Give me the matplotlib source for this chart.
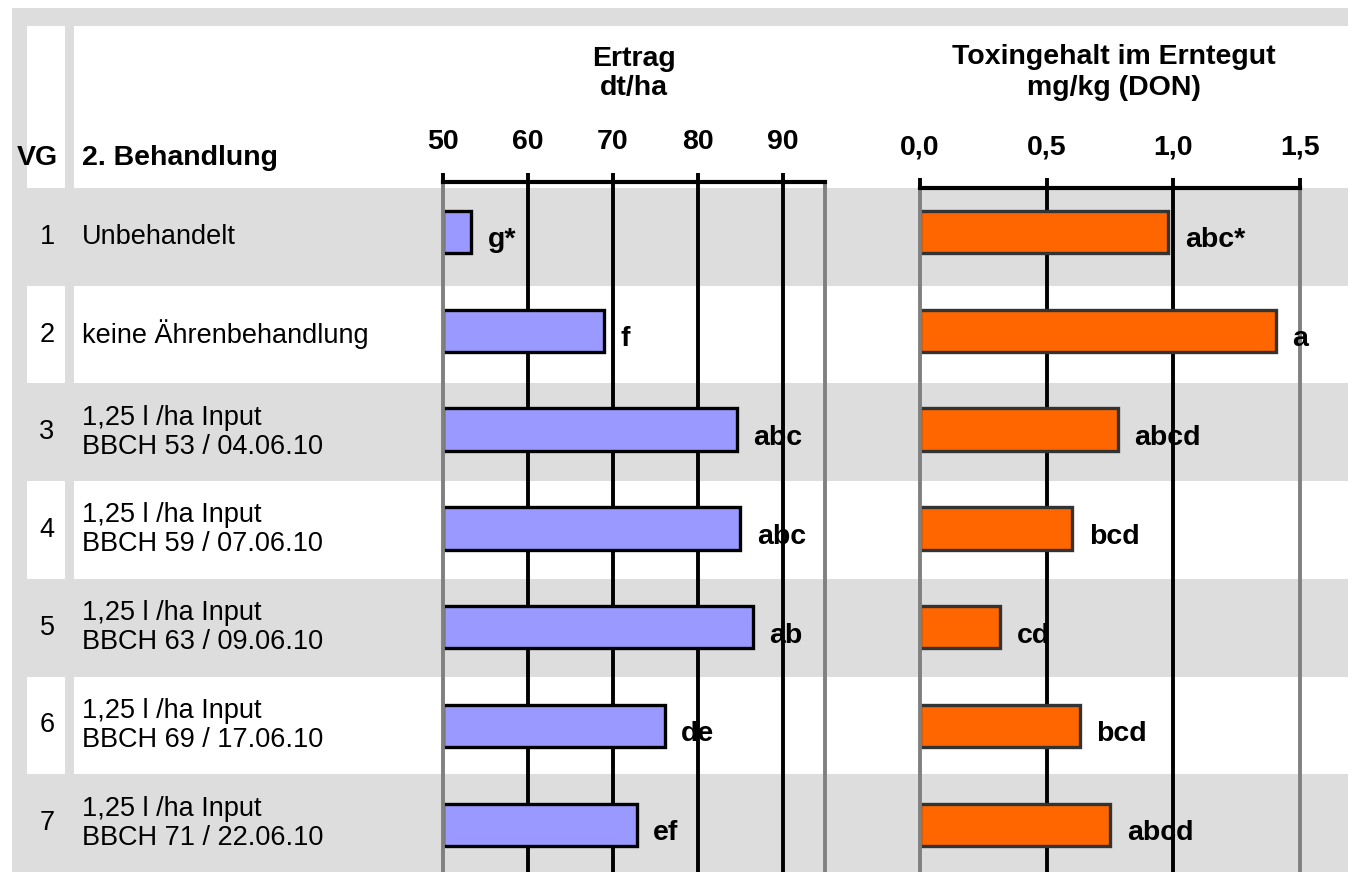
import matplotlib
matplotlib.use("Agg")
import matplotlib.pyplot as plt
from matplotlib.patches import Rectangle

plt.rcParams["font.family"] = ["Liberation Sans", "DejaVu Sans"]

# data
vg = ["1", "2", "3", "4", "5", "6", "7"]
behandlung = [
    "Unbehandelt",
    "keine Ährenbehandlung",
    "1,25 l /ha Input\nBBCH 53 / 04.06.10",
    "1,25 l /ha Input\nBBCH 59 / 07.06.10",
    "1,25 l /ha Input\nBBCH 63 / 09.06.10",
    "1,25 l /ha Input\nBBCH 69 / 17.06.10",
    "1,25 l /ha Input\nBBCH 71 / 22.06.10",
]
ertrag = [53.3, 69.0, 84.6, 85.0, 86.5, 76.1, 72.8]
ertrag_letters = ["g*", "f", "abc", "abc", "ab", "de", "ef"]
don = [0.98, 1.405, 0.78, 0.60, 0.316, 0.63, 0.75]
don_letters = ["abc*", "a", "abcd", "bcd", "cd", "bcd", "abcd"]

ertrag_ticks = [50, 60, 70, 80, 90]
ertrag_ticklabels = ["50", "60", "70", "80", "90"]
ertrag_max = 95
don_ticks = [0.0, 0.5, 1.0, 1.5]
don_ticklabels = ["0,0", "0,5", "1,0", "1,5"]

ertrag_title = ["Ertrag", "dt/ha"]
don_title = ["Toxingehalt im Erntegut", "mg/kg (DON)"]
head_vg = "VG"
head_beh = "2. Behandlung"

# layout (pixels)
W, H = 1348, 872
ROW_TOP, ROW_H = 188, 97.7
BAR_Y0, BAR_PITCH = 232, 98.8
GRAY = "#dddddd"
LINEGRAY = "#808080"
FS = 19.5
FSB = 20.5

fig = plt.figure(figsize=(W / 100, H / 100), dpi=100)

bg = fig.add_axes([0, 0, 1, 1])
bg.set_xlim(0, W)
bg.set_ylim(H, 0)
bg.axis("off")

bg.add_patch(Rectangle((12, 8), W - 12, 18, color=GRAY, lw=0))
bg.add_patch(Rectangle((12, 26), 15, H - 26, color=GRAY, lw=0))
bg.add_patch(Rectangle((65, 26), 9, H - 26, color=GRAY, lw=0))
for i in range(len(vg)):
    top = ROW_TOP + i * ROW_H
    if i % 2 == 0:
        bg.add_patch(Rectangle((12, top), W - 12, ROW_H, color=GRAY, lw=0))
    bg.text(47, top + ROW_H / 2, vg[i], ha="center", va="center", fontsize=FS)
    bg.text(82, top + ROW_H / 2, behandlung[i], ha="left", va="center",
            fontsize=FS, linespacing=1.15)

bg.text(17, 158, head_vg, ha="left", va="center", fontsize=FSB, fontweight="bold")
bg.text(82, 158, head_beh, ha="left", va="center", fontsize=FSB, fontweight="bold")
for k, line in enumerate(ertrag_title):
    bg.text(634, 59 + 29 * k, line, ha="center", va="center", fontsize=FSB, fontweight="bold")
for k, line in enumerate(don_title):
    bg.text(1114, 57 + 31 * k, line, ha="center", va="center", fontsize=FSB, fontweight="bold")


def panel(left_px, right_px, top_px, xlim, ticks, ticklabels, values, letters,
          face, edge, ticklen):
    ax = fig.add_axes([left_px / W, 0, (right_px - left_px) / W, (H - top_px) / H])
    ax.set_facecolor("none")
    ax.set_xlim(*xlim)
    ax.set_ylim((H - BAR_Y0) / BAR_PITCH, (top_px - BAR_Y0) / BAR_PITCH)
    for v in ticks[1:]:
        if v < xlim[1]:
            ax.axvline(v, color="black", lw=2.8, zorder=1)
    ax.barh(range(len(values)), [v - xlim[0] for v in values], left=xlim[0],
            height=0.43, color=face, edgecolor=edge, lw=2.4, zorder=2)
    for i, (v, t) in enumerate(zip(values, letters)):
        ax.annotate(t, (v, i), xytext=(12, -6), textcoords="offset points",
                    ha="left", va="center", fontsize=FSB, fontweight="bold",
                    annotation_clip=False, zorder=3)
    ax.spines["bottom"].set_visible(False)
    ax.spines["top"].set_linewidth(3)
    ax.spines["left"].set_color(LINEGRAY)
    ax.spines["right"].set_color(LINEGRAY)
    ax.spines["left"].set_linewidth(2.8)
    ax.spines["right"].set_linewidth(2.8)
    ax.xaxis.tick_top()
    ax.set_xticks(ticks)
    ax.set_xticklabels(ticklabels, fontsize=FSB, fontweight="bold")
    ax.tick_params(axis="x", direction="out", length=ticklen, width=2.8, pad=13)
    ax.set_yticks([])
    return ax


panel(443, 825, 182, (50, ertrag_max), ertrag_ticks, ertrag_ticklabels, ertrag,
      ertrag_letters, "#9999ff", "black", 6.5)
panel(920, 1300, 188, (0.0, 1.5), don_ticks, don_ticklabels, don,
      don_letters, "#ff6600", "#333333", 7)

fig.savefig("out.png", dpi=100)
